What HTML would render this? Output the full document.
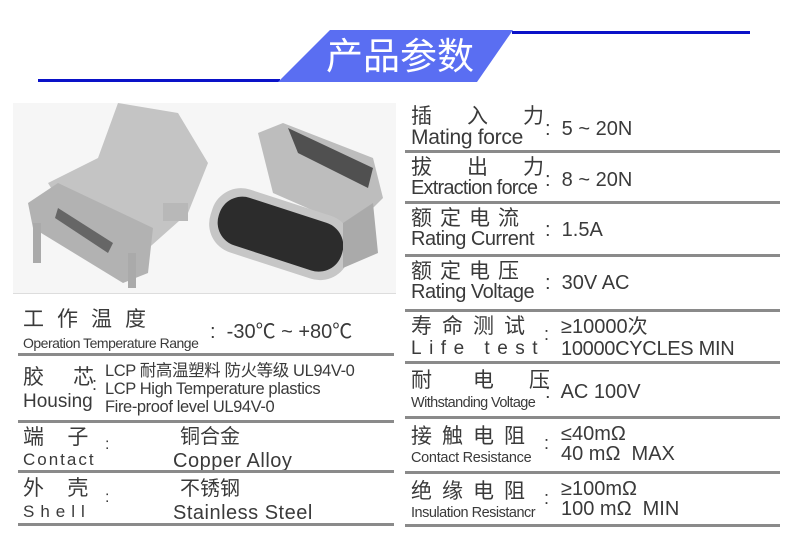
<!DOCTYPE html>
<html><head><meta charset="utf-8"><style>
body{margin:0;width:790px;height:553px;background:#fff;position:relative;overflow:hidden;font-family:"Liberation Sans","Noto Sans CJK SC",sans-serif;color:#3a3a3a}
.a{position:absolute;white-space:nowrap;line-height:1}
.ln{position:absolute;height:3px;background:#8a8a8a}
.cn{font-size:21px}
.v{font-size:20px}
</style></head><body>
<svg class="a" style="left:0;top:0" width="790" height="100">
<rect x="38" y="79" width="242" height="3" fill="#0a12c8"/>
<rect x="512" y="31" width="238" height="3" fill="#0a12c8"/>
<polygon points="278,82 330,30 513,30 477,82" fill="#5a6ef2"/>
<text x="400" y="69" text-anchor="middle" font-size="37" fill="#fff" font-family="Noto Sans CJK SC, sans-serif">产品参数</text>
</svg>
<!-- photo -->
<svg class="a" style="left:13px;top:103px" width="383" height="190">
<rect width="383" height="190" fill="#f6f6f6"/>
<polygon points="105,0 165,10 195,60 175,110 130,150 60,120 35,80 85,55" fill="#c4c4c4"/>
<polygon points="15,100 45,80 140,125 135,170 110,180 20,125" fill="#b2b2b2"/>
<polygon points="45,105 100,140 95,150 42,115" fill="#666"/>
<rect x="20" y="120" width="8" height="40" fill="#aaa"/>
<rect x="115" y="150" width="8" height="35" fill="#aaa"/>
<rect x="150" y="100" width="25" height="18" fill="#b8b8b8"/>
<polygon points="245,30 270,20 360,55 370,95 340,125 260,90" fill="#bdbdbd"/>
<polygon points="275,25 360,65 355,85 285,50" fill="#505050"/>
<rect x="195" y="98" width="145" height="66" rx="30" fill="#c6c6c6" transform="rotate(18 267 131)"/>
<rect x="203" y="106" width="129" height="50" rx="24" fill="#2c2c2c" transform="rotate(18 267 131)"/>
<polygon points="330,120 360,100 365,150 330,165" fill="#aaa"/>
</svg>
<div class="ln" style="left:13px;top:293px;width:383px;height:1px;background:#ddd"></div>
<!-- left table -->
<div class="a cn" style="left:23px;top:309px;letter-spacing:13px">工作温度</div>
<div class="a" style="left:23px;top:336px;font-size:14px;letter-spacing:-0.5px">Operation Temperature Range</div>
<div class="a v" style="left:210px;top:322px">:&nbsp; -30℃ ~ +80℃</div>
<div class="ln" style="left:18px;top:353px;width:376px"></div>
<div class="a cn" style="left:23px;top:367px">胶&nbsp;&nbsp;&nbsp;&nbsp;&nbsp;芯</div>
<div class="a" style="left:23px;top:392px;font-size:19px">Housing</div>
<div class="a" style="left:92px;top:375px;font-size:18px">:</div>
<div class="a" style="left:105px;top:362px;font-size:16.5px;line-height:18px;letter-spacing:-0.4px">LCP 耐高温塑料 防火等级 UL94V-0<br>LCP High Temperature plastics<br>Fire-proof level UL94V-0</div>
<div class="ln" style="left:18px;top:420px;width:376px"></div>
<div class="a cn" style="left:23px;top:427px">端&nbsp;&nbsp;&nbsp;&nbsp;子</div>
<div class="a" style="left:23px;top:451px;font-size:17px;letter-spacing:2px">Contact</div>
<div class="a" style="left:105px;top:437px;font-size:16px">:</div>
<div class="a cn" style="left:180px;top:427px;font-size:20px">铜合金</div>
<div class="a v" style="left:173px;top:451px;letter-spacing:0.5px">Copper Alloy</div>
<div class="ln" style="left:18px;top:470px;width:376px"></div>
<div class="a cn" style="left:23px;top:478px">外&nbsp;&nbsp;&nbsp;&nbsp;壳</div>
<div class="a" style="left:23px;top:503px;font-size:17px;letter-spacing:6px">Shell</div>
<div class="a" style="left:105px;top:490px;font-size:16px">:</div>
<div class="a cn" style="left:180px;top:479px;font-size:20px">不锈钢</div>
<div class="a v" style="left:173px;top:503px;letter-spacing:0.5px">Stainless Steel</div>
<div class="ln" style="left:18px;top:523px;width:376px"></div>
<!-- right table -->
<div class="a cn" style="left:411px;top:106px">插&nbsp;&nbsp;&nbsp;&nbsp;&nbsp;&nbsp;入&nbsp;&nbsp;&nbsp;&nbsp;&nbsp;&nbsp;力</div>
<div class="a" style="left:411px;top:127px;font-size:21px;letter-spacing:-0.3px">Mating force</div>
<div class="a v" style="left:545px;top:119px">:&nbsp; 5 ~ 20N</div>
<div class="ln" style="left:405px;top:150px;width:375px"></div>
<div class="a cn" style="left:411px;top:157px">拔&nbsp;&nbsp;&nbsp;&nbsp;&nbsp;&nbsp;出&nbsp;&nbsp;&nbsp;&nbsp;&nbsp;&nbsp;力</div>
<div class="a" style="left:411px;top:178px;font-size:20px;letter-spacing:-0.8px">Extraction force</div>
<div class="a v" style="left:545px;top:170px">:&nbsp; 8 ~ 20N</div>
<div class="ln" style="left:405px;top:201px;width:375px"></div>
<div class="a cn" style="left:411px;top:208px;letter-spacing:8px">额定电流</div>
<div class="a" style="left:411px;top:229px;font-size:20px;letter-spacing:-0.5px">Rating Current</div>
<div class="a v" style="left:545px;top:220px">:&nbsp; 1.5A</div>
<div class="ln" style="left:405px;top:254px;width:375px"></div>
<div class="a cn" style="left:411px;top:261px;letter-spacing:8px">额定电压</div>
<div class="a" style="left:411px;top:282px;font-size:20px;letter-spacing:-0.5px">Rating Voltage</div>
<div class="a v" style="left:545px;top:273px">:&nbsp; 30V AC</div>
<div class="ln" style="left:405px;top:309px;width:375px"></div>
<div class="a cn" style="left:411px;top:316px;letter-spacing:10px">寿命测试</div>
<div class="a" style="left:411px;top:339px;font-size:19px;letter-spacing:7.5px">Life test</div>
<div class="a" style="left:544px;top:325px;font-size:18px">:</div>
<div class="a v" style="left:561px;top:317px">≥10000次</div>
<div class="a v" style="left:561px;top:339px;letter-spacing:-0.3px">10000CYCLES MIN</div>
<div class="ln" style="left:405px;top:361px;width:375px"></div>
<div class="a cn" style="left:411px;top:370px">耐&nbsp;&nbsp;&nbsp;&nbsp;&nbsp;&nbsp;&nbsp;电&nbsp;&nbsp;&nbsp;&nbsp;&nbsp;&nbsp;压</div>
<div class="a" style="left:411px;top:396px;font-size:14.5px;letter-spacing:-0.6px">Withstanding Voltage</div>
<div class="a v" style="left:545px;top:382px">:&nbsp; AC 100V</div>
<div class="ln" style="left:405px;top:416px;width:375px"></div>
<div class="a cn" style="left:411px;top:426px;letter-spacing:10px">接触电阻</div>
<div class="a" style="left:411px;top:451px;font-size:14.5px;letter-spacing:-0.3px">Contact Resistance</div>
<div class="a" style="left:544px;top:434px;font-size:18px">:</div>
<div class="a v" style="left:561px;top:424px">≤40mΩ</div>
<div class="a v" style="left:561px;top:444px">40 mΩ&nbsp; MAX</div>
<div class="ln" style="left:405px;top:471px;width:375px"></div>
<div class="a cn" style="left:411px;top:481px;letter-spacing:10px">绝缘电阻</div>
<div class="a" style="left:411px;top:506px;font-size:14.5px;letter-spacing:-0.5px">Insulation Resistancr</div>
<div class="a" style="left:544px;top:489px;font-size:18px">:</div>
<div class="a v" style="left:561px;top:479px">≥100mΩ</div>
<div class="a v" style="left:561px;top:499px">100 mΩ&nbsp; MIN</div>
<div class="ln" style="left:405px;top:524px;width:375px"></div>
</body></html>
